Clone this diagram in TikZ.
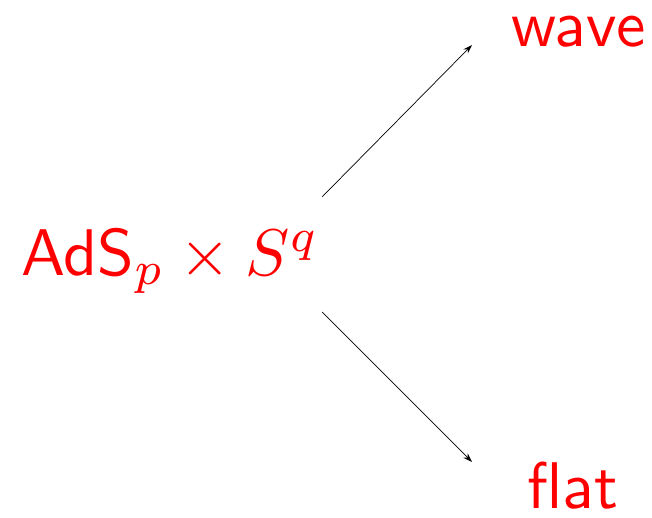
\documentclass[tikz,border=0pt]{standalone}
\usetikzlibrary{arrows.meta}
\begin{document}
\begin{tikzpicture}[x=1pt,y=-1pt,
  lbl/.style={text=red,inner sep=0pt,font=\sffamily,scale=6.6,transform shape},
  arr/.style={draw=black,line width=0.7pt,-{Stealth[length=9pt,width=6pt]}}]
\useasboundingbox (0,0) rectangle (652,518);
\node[lbl,anchor=base west] (ads) at (20,275) {AdS$_p\times S^q$};
\node[lbl,anchor=base west] (wave) at (510,47) {wave};
\node[lbl,anchor=base west] (flat) at (526,508) {flat};
\coordinate (a1) at (322,197);
\coordinate (b1) at (472,45);
\coordinate (a2) at (322,312);
\coordinate (b2) at (472,462);
\draw[arr] (a1) -- (b1);
\draw[arr] (a2) -- (b2);
\end{tikzpicture}
\end{document}
